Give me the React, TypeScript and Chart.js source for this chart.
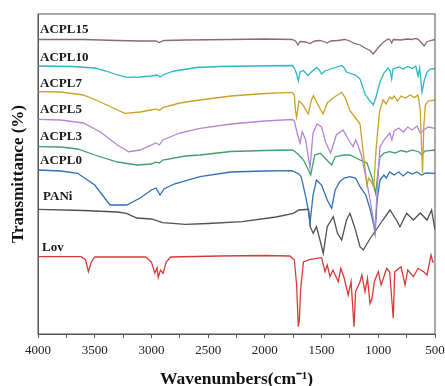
import { useEffect, useRef } from "react";
import { Chart, registerables } from "chart.js";

Chart.register(...registerables);

// Wavenumber tick labels (cm^-1)
const xTickLabels = [4000, 3500, 3000, 2500, 2000, 1500, 1000, 500];

// Series: [wavenumber, transmittance (offset, a.u.)]
const acpl15: [number, number][] = [
  [4000, 294.5], [3600, 294.5], [3300, 293.5], [3100, 293], [2960, 293], [2930, 291.5], [2890, 293.5],
  [2700, 294], [2300, 294.5], [2000, 295], [1760, 294.5], [1730, 293], [1708, 289], [1690, 292.5],
  [1640, 292], [1602, 290.5], [1560, 293], [1514, 293.5], [1470, 292], [1452, 291], [1420, 293],
  [1360, 293.5], [1294, 294.5], [1250, 293], [1222, 291], [1190, 290], [1161, 289], [1117, 286],
  [1073, 283.5], [1044, 280], [1000, 286.5], [958, 291.5], [914, 295], [895, 294], [882, 291],
  [868, 294.5], [800, 294], [745, 295], [700, 294.5], [680, 295.5], [650, 295], [610, 290],
  [596, 288], [575, 292], [540, 293.5], [500, 294.5],
];

const acpl10: [number, number][] = [
  [4000, 268], [3700, 267.5], [3500, 266], [3400, 263], [3300, 259], [3215, 256.7], [3100, 257],
  [3000, 258], [2950, 259], [2924, 257], [2890, 259.5], [2800, 263], [2600, 266.5], [2400, 267.5],
  [2100, 268], [1760, 268.5], [1740, 266], [1720, 260], [1705, 253], [1690, 262], [1660, 263.5],
  [1620, 258.5], [1600, 261], [1543, 266.5], [1520, 264], [1500, 260], [1470, 263], [1420, 265],
  [1323, 268.5], [1300, 266], [1279, 262], [1234, 260], [1200, 259], [1161, 255], [1117, 240],
  [1080, 234], [1044, 229], [1020, 237], [985, 252], [950, 261], [914, 266], [895, 263], [882, 255],
  [870, 265], [820, 267], [780, 265], [740, 267.5], [700, 265.5], [670, 268], [650, 258], [635, 266],
  [615, 242], [594, 254], [570, 262], [540, 265], [500, 265.5],
];

const acpl7: [number, number][] = [
  [4000, 242.3], [3800, 242], [3600, 239], [3450, 232], [3300, 224], [3233, 220.7], [3100, 222],
  [2960, 225], [2930, 223.5], [2900, 226.5], [2750, 231], [2572, 234], [2300, 238], [2000, 240.5],
  [1760, 241.7], [1740, 239], [1730, 223.3], [1720, 216.7], [1700, 233], [1670, 230], [1617, 220],
  [1590, 234], [1571, 238.3], [1540, 231], [1487, 220], [1450, 231], [1400, 236], [1323, 241.7],
  [1290, 236], [1250, 223.3], [1200, 216], [1161, 210], [1150, 199], [1120, 169], [1100, 149],
  [1085, 156], [1060, 152], [1040, 147], [1020, 184], [990, 222], [958, 234], [930, 230], [900, 237],
  [880, 235], [860, 238], [830, 233], [800, 238], [760, 236], [720, 239], [680, 236.5], [650, 239],
  [630, 224], [610, 161], [598, 209], [585, 229], [560, 233], [500, 234],
];

const acpl5: [number, number][] = [
  [4000, 214.7], [3800, 214], [3600, 211], [3450, 202], [3300, 189], [3200, 182.3], [3100, 184],
  [2960, 191], [2930, 189], [2900, 194], [2750, 201], [2572, 205.7], [2300, 210], [2000, 213],
  [1760, 214.5], [1740, 213], [1715, 201], [1690, 191], [1670, 202.3], [1640, 194], [1602, 166],
  [1575, 201], [1540, 210], [1500, 207], [1465, 192], [1420, 181], [1370, 199], [1311, 204],
  [1280, 198], [1250, 192], [1222, 187.3], [1200, 194], [1180, 189], [1150, 179], [1117, 161],
  [1080, 139], [1050, 119], [1029, 104], [1010, 144], [985, 187], [950, 194], [900, 201], [880, 194],
  [860, 203], [820, 206], [780, 202], [740, 207], [700, 204], [660, 208], [630, 201], [600, 204],
  [560, 207], [500, 205.7],
];

const acpl3: [number, number][] = [
  [4000, 187.3], [3800, 187], [3650, 185], [3500, 179], [3300, 172], [3126, 169], [3000, 170],
  [2960, 172], [2930, 171], [2900, 174], [2700, 178], [2572, 179], [2300, 182.5], [2000, 183.5],
  [1760, 184], [1740, 183], [1700, 179], [1660, 174], [1630, 167.3], [1596, 159], [1560, 179],
  [1510, 180.7], [1480, 177], [1411, 169], [1380, 177.3], [1300, 179], [1250, 179], [1161, 174],
  [1100, 171], [1058, 157.3], [1024, 140.7], [1000, 164], [985, 177], [950, 181], [900, 182.3],
  [850, 181], [800, 183.5], [750, 182], [700, 184], [640, 182], [617, 179], [590, 183], [500, 184],
];

const acpl0: [number, number][] = [
  [4000, 164], [3800, 163], [3650, 160.7], [3500, 149], [3365, 129], [3218, 129], [3100, 136],
  [3000, 144], [2960, 146], [2924, 139], [2890, 145], [2800, 150], [2572, 157.3], [2300, 162],
  [2000, 163], [1760, 163.3], [1700, 160], [1680, 157.3], [1640, 137.3], [1617, 124], [1602, 110.7],
  [1575, 139], [1545, 154], [1500, 149], [1450, 134], [1411, 125.7], [1380, 144], [1340, 152.3],
  [1300, 156], [1250, 157.3], [1200, 156], [1161, 147.3], [1110, 139], [1070, 124], [1040, 109],
  [1029, 100.7], [1010, 134], [985, 154], [950, 159], [930, 156], [900, 162], [860, 159], [820, 162],
  [780, 158], [740, 162], [700, 160], [660, 162], [620, 159], [580, 161], [500, 160.7],
];

const pani: [number, number][] = [
  [4000, 124.7], [3600, 123.5], [3300, 122], [3220, 120.7], [3130, 116], [3000, 115], [2900, 111.3],
  [2700, 109.7], [2500, 110.5], [2200, 112.3], [1900, 117], [1750, 120.7], [1700, 124], [1615, 124.7],
  [1600, 107.3], [1574, 100.7], [1545, 107.3], [1514, 94], [1485, 80.7], [1450, 107.3], [1397, 117.3],
  [1360, 100.7], [1323, 94], [1280, 114], [1250, 120.7], [1210, 107.3], [1161, 87.3], [1132, 84],
  [1080, 94], [1020, 104], [960, 114], [897, 124], [840, 114], [809, 107.3], [750, 120.7], [690, 114],
  [630, 121], [570, 114], [530, 124], [500, 104],
];

const lov: [number, number][] = [
  [4000, 77.3], [3620, 77.3], [3580, 74], [3556, 62.3], [3530, 72], [3500, 77], [3050, 77], [3000, 72],
  [2970, 61], [2950, 66], [2940, 56.7], [2920, 64], [2897, 60.7], [2870, 72], [2830, 77], [2400, 78],
  [2000, 78.5], [1780, 78], [1740, 74], [1720, 49], [1705, 7.3], [1696, 14], [1685, 44], [1660, 72],
  [1600, 74.7], [1500, 76.3], [1470, 62.3], [1450, 69], [1426, 57.3], [1400, 64], [1353, 52.3],
  [1330, 65.7], [1300, 55.7], [1265, 39], [1240, 52.3], [1214, 7.3], [1200, 42.3], [1161, 52.3],
  [1145, 59], [1117, 42.3], [1095, 55.7], [1073, 30.7], [1055, 35.7], [1035, 52.3], [1000, 62.3],
  [975, 49], [926, 65.7], [900, 62.3], [868, 15.7], [855, 62.3], [800, 67.3], [764, 49], [740, 64],
  [690, 57.3], [650, 65.7], [600, 62.3], [570, 59], [535, 79], [520, 72.3], [510, 72],
];

const seriesNames = ["ACPL15", "ACPL10", "ACPL7", "ACPL5", "ACPL3", "ACPL0", "PANi", "Lov"];
const seriesData = [acpl15, acpl10, acpl7, acpl5, acpl3, acpl0, pani, lov];
const seriesColors = ["#8a6a6c", "#2bb6c4", "#c9a228", "#b585d9", "#3f9e6c", "#2f6fb3", "#505050", "#d63a3a"];

// Label anchor (wavenumber, transmittance)
const labelX = [3982, 3982, 3982, 3982, 3982, 3982, 3955, 3965];
const labelY = [304.7, 276.7, 250.7, 224, 197.3, 173, 137, 86];

const SERIF = '"Liberation Serif", "Times New Roman", serif';

const overlayPlugin = {
  id: "overlay",
  afterDatasetsDraw(chart: any) {
    const { ctx, chartArea: a, scales } = chart;
    ctx.save();
    ctx.strokeStyle = "#555";
    ctx.lineWidth = 1;
    ctx.strokeRect(a.left, a.top, a.right - a.left, a.bottom - a.top);
    ctx.font = `bold 13px ${SERIF}`;
    ctx.fillStyle = "#1a1a1a";
    ctx.textAlign = "left";
    ctx.textBaseline = "middle";
    seriesNames.forEach((name, i) => {
      ctx.fillText(name, scales.x.getPixelForValue(labelX[i]), scales.y.getPixelForValue(labelY[i]));
    });
    ctx.restore();
  },
};

export default function App() {
  const ref = useRef<HTMLCanvasElement>(null);
  useEffect(() => {
    if (!ref.current) return;
    const chart = new Chart(ref.current, {
      type: "line",
      data: {
        datasets: seriesData.map((d, i) => ({
          label: seriesNames[i],
          data: d.map(([x, y]) => ({ x, y })),
          borderColor: seriesColors[i],
          borderWidth: 1.3,
          pointRadius: 0,
          tension: 0,
          fill: false,
        })),
      },
      options: {
        responsive: false,
        animation: false,
        layout: { padding: { top: 14, left: 0, right: 0, bottom: 0 } },
        plugins: { legend: { display: false }, tooltip: { enabled: false } },
        scales: {
          x: {
            type: "linear",
            reverse: true,
            min: 500,
            max: 4000,
            afterFit: (s: any) => {
              s.height = 52;
              s.paddingRight = 10;
              s.paddingLeft = 0;
            },
            ticks: {
              stepSize: 250,
              autoSkip: false,
              maxRotation: 0,
              padding: 5,
              color: "#222",
              font: { family: SERIF, size: 13 },
              callback: (v: any) => (xTickLabels.includes(Number(v)) ? String(v) : ""),
            },
            grid: { drawOnChartArea: false, tickLength: 4, color: "#555" },
            border: { color: "#555" },
            title: {
              display: true,
              text: "Wavenumbers(cm⁻¹)",
              color: "#111",
              font: { family: SERIF, size: 17.5, weight: "bold", lineHeight: 0.8 },
              padding: { top: 0, bottom: 0 },
            },
          },
          y: {
            min: 0,
            max: 320,
            afterFit: (s: any) => { s.width = 38; },
            ticks: { display: false },
            grid: { display: false },
            border: { color: "#555" },
            title: {
              display: true,
              text: "Transmittance (%)",
              color: "#111",
              font: { family: SERIF, size: 17, weight: "bold", lineHeight: 1.2 },
              padding: { top: 8, bottom: 0 },
            },
          },
        },
      },
      plugins: [overlayPlugin],
    });
    return () => chart.destroy();
  }, []);
  return (
    <div style={{ position: "absolute", left: 0, top: 0, width: 445, height: 386, background: "#fff" }}>
      <canvas ref={ref} width={445} height={386} style={{ display: "block" }} />
    </div>
  );
}
